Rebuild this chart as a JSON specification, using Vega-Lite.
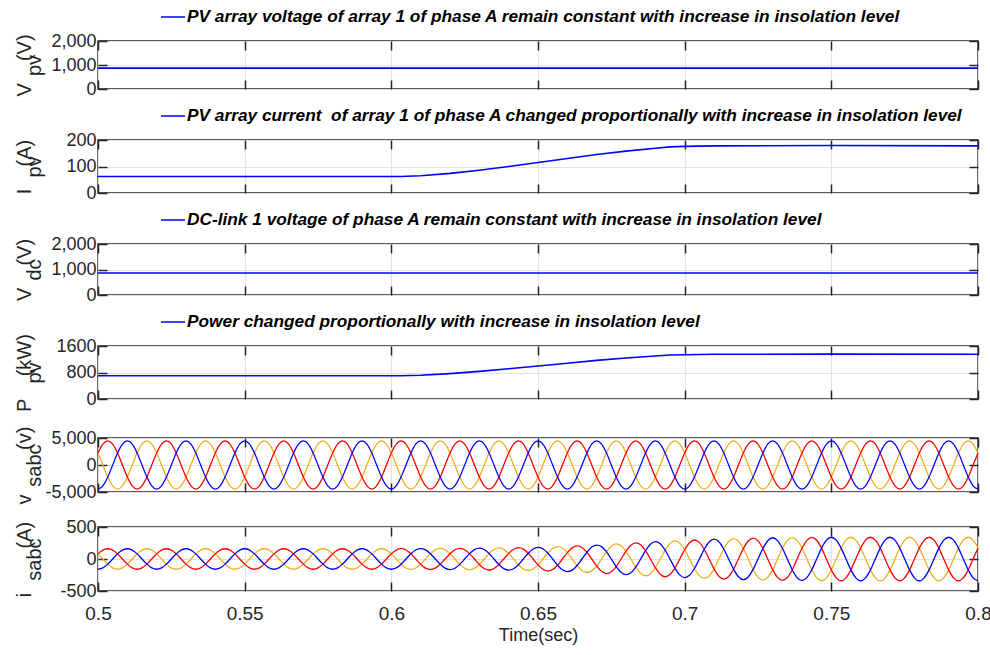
{
  "$schema": "https://vega.github.io/schema/vega-lite/v6.json",
  "padding": {"left": 13, "top": 3, "right": 0, "bottom": 0},
  "config": {
    "font": "Liberation Sans",
    "locale": {"number": {"decimal": ".", "thousands": ",", "grouping": [3], "currency": ["$", ""], "minus": "-"}},
    "view": {"stroke": "#262626", "strokeWidth": 1.5},
    "axis": {"domain": false, "gridColor": "#e2e2e2", "gridWidth": 1.2, "tickColor": "#262626", "tickWidth": 1.5, "tickSize": -9, "labelColor": "#262626", "labelFontSize": 18, "titleColor": "#262626", "titleFontSize": 20, "titleFontWeight": "normal", "labelPadding": 11},
    "axisY": {"minExtent": 48, "maxExtent": 48, "titlePadding": 6, "titleLineHeight": 10},
    "axisX": {"labelFontSize": 19, "titleFontSize": 18, "labelPadding": 22, "labelFlush": false, "titlePadding": 3},
    "legend": {"orient": "top", "symbolType": "stroke", "symbolSize": 576, "symbolStrokeWidth": 1.5, "labelFontSize": 17.3, "labelFontStyle": "italic", "labelFontWeight": "bold", "labelColor": "#000000", "labelLimit": 0, "padding": 0, "offset": 14, "symbolOffset": 62, "labelOffset": 1}
  },
  "datasets": {
    "dc": [
      {"t": 0.5, "vpv": 870, "ipv": 62, "vdc": 860, "ppv": 700},
      {"t": 0.6, "vpv": 870, "ipv": 62, "vdc": 860, "ppv": 700},
      {"t": 0.603, "vpv": 870, "ipv": 62.5, "vdc": 860, "ppv": 703},
      {"t": 0.61, "vpv": 870, "ipv": 65, "vdc": 860, "ppv": 717},
      {"t": 0.62, "vpv": 870, "ipv": 74, "vdc": 860, "ppv": 767},
      {"t": 0.63, "vpv": 870, "ipv": 86, "vdc": 860, "ppv": 834},
      {"t": 0.64, "vpv": 870, "ipv": 100, "vdc": 860, "ppv": 913},
      {"t": 0.65, "vpv": 870, "ipv": 115, "vdc": 860, "ppv": 997},
      {"t": 0.66, "vpv": 870, "ipv": 130, "vdc": 860, "ppv": 1081},
      {"t": 0.67, "vpv": 870, "ipv": 145, "vdc": 860, "ppv": 1165},
      {"t": 0.68, "vpv": 870, "ipv": 158, "vdc": 860, "ppv": 1238},
      {"t": 0.69, "vpv": 870, "ipv": 169, "vdc": 860, "ppv": 1299},
      {"t": 0.695, "vpv": 870, "ipv": 174, "vdc": 860, "ppv": 1327},
      {"t": 0.7, "vpv": 870, "ipv": 176, "vdc": 860, "ppv": 1338},
      {"t": 0.71, "vpv": 870, "ipv": 178, "vdc": 860, "ppv": 1350},
      {"t": 0.75, "vpv": 870, "ipv": 179, "vdc": 860, "ppv": 1355},
      {"t": 0.8, "vpv": 870, "ipv": 178, "vdc": 860, "ppv": 1350}
    ],
    "ac": [
      {"t":0.5,"vr":2225,"vy":2225,"vb":-4450,"ir":80,"iy":80,"ib":-160},
      {"t":0.50167,"vr":3854,"vy":0,"vb":-3854,"ir":139,"iy":0,"ib":-139},
      {"t":0.50333,"vr":4450,"vy":-2225,"vb":-2225,"ir":160,"iy":-80,"ib":-80},
      {"t":0.505,"vr":3854,"vy":-3854,"vb":0,"ir":139,"iy":-139,"ib":0},
      {"t":0.50667,"vr":2225,"vy":-4450,"vb":2225,"ir":80,"iy":-160,"ib":80},
      {"t":0.50833,"vr":0,"vy":-3854,"vb":3854,"ir":0,"iy":-139,"ib":139},
      {"t":0.51,"vr":-2225,"vy":-2225,"vb":4450,"ir":-80,"iy":-80,"ib":160},
      {"t":0.51167,"vr":-3854,"vy":0,"vb":3854,"ir":-139,"iy":0,"ib":139},
      {"t":0.51333,"vr":-4450,"vy":2225,"vb":2225,"ir":-160,"iy":80,"ib":80},
      {"t":0.515,"vr":-3854,"vy":3854,"vb":0,"ir":-139,"iy":139,"ib":0},
      {"t":0.51667,"vr":-2225,"vy":4450,"vb":-2225,"ir":-80,"iy":160,"ib":-80},
      {"t":0.51833,"vr":0,"vy":3854,"vb":-3854,"ir":0,"iy":139,"ib":-139},
      {"t":0.52,"vr":2225,"vy":2225,"vb":-4450,"ir":80,"iy":80,"ib":-160},
      {"t":0.52167,"vr":3854,"vy":0,"vb":-3854,"ir":139,"iy":0,"ib":-139},
      {"t":0.52333,"vr":4450,"vy":-2225,"vb":-2225,"ir":160,"iy":-80,"ib":-80},
      {"t":0.525,"vr":3854,"vy":-3854,"vb":0,"ir":139,"iy":-139,"ib":0},
      {"t":0.52667,"vr":2225,"vy":-4450,"vb":2225,"ir":80,"iy":-160,"ib":80},
      {"t":0.52833,"vr":0,"vy":-3854,"vb":3854,"ir":0,"iy":-139,"ib":139},
      {"t":0.53,"vr":-2225,"vy":-2225,"vb":4450,"ir":-80,"iy":-80,"ib":160},
      {"t":0.53167,"vr":-3854,"vy":0,"vb":3854,"ir":-139,"iy":0,"ib":139},
      {"t":0.53333,"vr":-4450,"vy":2225,"vb":2225,"ir":-160,"iy":80,"ib":80},
      {"t":0.535,"vr":-3854,"vy":3854,"vb":0,"ir":-139,"iy":139,"ib":0},
      {"t":0.53667,"vr":-2225,"vy":4450,"vb":-2225,"ir":-80,"iy":160,"ib":-80},
      {"t":0.53833,"vr":0,"vy":3854,"vb":-3854,"ir":0,"iy":139,"ib":-139},
      {"t":0.54,"vr":2225,"vy":2225,"vb":-4450,"ir":80,"iy":80,"ib":-160},
      {"t":0.54167,"vr":3854,"vy":0,"vb":-3854,"ir":139,"iy":0,"ib":-139},
      {"t":0.54333,"vr":4450,"vy":-2225,"vb":-2225,"ir":160,"iy":-80,"ib":-80},
      {"t":0.545,"vr":3854,"vy":-3854,"vb":0,"ir":139,"iy":-139,"ib":0},
      {"t":0.54667,"vr":2225,"vy":-4450,"vb":2225,"ir":80,"iy":-160,"ib":80},
      {"t":0.54833,"vr":0,"vy":-3854,"vb":3854,"ir":0,"iy":-139,"ib":139},
      {"t":0.55,"vr":-2225,"vy":-2225,"vb":4450,"ir":-80,"iy":-80,"ib":160},
      {"t":0.55167,"vr":-3854,"vy":0,"vb":3854,"ir":-139,"iy":0,"ib":139},
      {"t":0.55333,"vr":-4450,"vy":2225,"vb":2225,"ir":-160,"iy":80,"ib":80},
      {"t":0.555,"vr":-3854,"vy":3854,"vb":0,"ir":-139,"iy":139,"ib":0},
      {"t":0.55667,"vr":-2225,"vy":4450,"vb":-2225,"ir":-80,"iy":160,"ib":-80},
      {"t":0.55833,"vr":0,"vy":3854,"vb":-3854,"ir":0,"iy":139,"ib":-139},
      {"t":0.56,"vr":2225,"vy":2225,"vb":-4450,"ir":80,"iy":80,"ib":-160},
      {"t":0.56167,"vr":3854,"vy":0,"vb":-3854,"ir":139,"iy":0,"ib":-139},
      {"t":0.56333,"vr":4450,"vy":-2225,"vb":-2225,"ir":160,"iy":-80,"ib":-80},
      {"t":0.565,"vr":3854,"vy":-3854,"vb":0,"ir":139,"iy":-139,"ib":0},
      {"t":0.56667,"vr":2225,"vy":-4450,"vb":2225,"ir":80,"iy":-160,"ib":80},
      {"t":0.56833,"vr":0,"vy":-3854,"vb":3854,"ir":0,"iy":-139,"ib":139},
      {"t":0.57,"vr":-2225,"vy":-2225,"vb":4450,"ir":-80,"iy":-80,"ib":160},
      {"t":0.57167,"vr":-3854,"vy":0,"vb":3854,"ir":-139,"iy":0,"ib":139},
      {"t":0.57333,"vr":-4450,"vy":2225,"vb":2225,"ir":-160,"iy":80,"ib":80},
      {"t":0.575,"vr":-3854,"vy":3854,"vb":0,"ir":-139,"iy":139,"ib":0},
      {"t":0.57667,"vr":-2225,"vy":4450,"vb":-2225,"ir":-80,"iy":160,"ib":-80},
      {"t":0.57833,"vr":0,"vy":3854,"vb":-3854,"ir":0,"iy":139,"ib":-139},
      {"t":0.58,"vr":2225,"vy":2225,"vb":-4450,"ir":80,"iy":80,"ib":-160},
      {"t":0.58167,"vr":3854,"vy":0,"vb":-3854,"ir":139,"iy":0,"ib":-139},
      {"t":0.58333,"vr":4450,"vy":-2225,"vb":-2225,"ir":160,"iy":-80,"ib":-80},
      {"t":0.585,"vr":3854,"vy":-3854,"vb":0,"ir":139,"iy":-139,"ib":0},
      {"t":0.58667,"vr":2225,"vy":-4450,"vb":2225,"ir":80,"iy":-160,"ib":80},
      {"t":0.58833,"vr":0,"vy":-3854,"vb":3854,"ir":0,"iy":-139,"ib":139},
      {"t":0.59,"vr":-2225,"vy":-2225,"vb":4450,"ir":-80,"iy":-80,"ib":160},
      {"t":0.59167,"vr":-3854,"vy":0,"vb":3854,"ir":-139,"iy":0,"ib":139},
      {"t":0.59333,"vr":-4450,"vy":2225,"vb":2225,"ir":-160,"iy":80,"ib":80},
      {"t":0.595,"vr":-3854,"vy":3854,"vb":0,"ir":-139,"iy":139,"ib":0},
      {"t":0.59667,"vr":-2225,"vy":4450,"vb":-2225,"ir":-80,"iy":160,"ib":-80},
      {"t":0.59833,"vr":0,"vy":3854,"vb":-3854,"ir":0,"iy":139,"ib":-139},
      {"t":0.6,"vr":2225,"vy":2225,"vb":-4450,"ir":80,"iy":80,"ib":-160},
      {"t":0.60167,"vr":3854,"vy":0,"vb":-3854,"ir":139,"iy":0,"ib":-139},
      {"t":0.60333,"vr":4450,"vy":-2225,"vb":-2225,"ir":161,"iy":-81,"ib":-81},
      {"t":0.605,"vr":3854,"vy":-3854,"vb":0,"ir":140,"iy":-140,"ib":0},
      {"t":0.60667,"vr":2225,"vy":-4450,"vb":2225,"ir":81,"iy":-162,"ib":81},
      {"t":0.60833,"vr":0,"vy":-3854,"vb":3854,"ir":0,"iy":-141,"ib":141},
      {"t":0.61,"vr":-2225,"vy":-2225,"vb":4450,"ir":-82,"iy":-82,"ib":163},
      {"t":0.61167,"vr":-3854,"vy":0,"vb":3854,"ir":-142,"iy":0,"ib":142},
      {"t":0.61333,"vr":-4450,"vy":2225,"vb":2225,"ir":-164,"iy":82,"ib":82},
      {"t":0.615,"vr":-3854,"vy":3854,"vb":0,"ir":-142,"iy":142,"ib":0},
      {"t":0.61667,"vr":-2225,"vy":4450,"vb":-2225,"ir":-83,"iy":165,"ib":-83},
      {"t":0.61833,"vr":0,"vy":3854,"vb":-3854,"ir":0,"iy":143,"ib":-143},
      {"t":0.62,"vr":2225,"vy":2225,"vb":-4450,"ir":83,"iy":83,"ib":-166},
      {"t":0.62167,"vr":3854,"vy":0,"vb":-3854,"ir":144,"iy":0,"ib":-144},
      {"t":0.62333,"vr":4450,"vy":-2225,"vb":-2225,"ir":167,"iy":-84,"ib":-84},
      {"t":0.625,"vr":3854,"vy":-3854,"vb":0,"ir":145,"iy":-145,"ib":0},
      {"t":0.62667,"vr":2225,"vy":-4450,"vb":2225,"ir":84,"iy":-169,"ib":84},
      {"t":0.62833,"vr":0,"vy":-3854,"vb":3854,"ir":0,"iy":-147,"ib":147},
      {"t":0.63,"vr":-2225,"vy":-2225,"vb":4450,"ir":-85,"iy":-85,"ib":170},
      {"t":0.63167,"vr":-3854,"vy":0,"vb":3854,"ir":-148,"iy":0,"ib":148},
      {"t":0.63333,"vr":-4450,"vy":2225,"vb":2225,"ir":-172,"iy":86,"ib":86},
      {"t":0.635,"vr":-3854,"vy":3854,"vb":0,"ir":-149,"iy":149,"ib":0},
      {"t":0.63667,"vr":-2225,"vy":4450,"vb":-2225,"ir":-87,"iy":173,"ib":-87},
      {"t":0.63833,"vr":0,"vy":3854,"vb":-3854,"ir":0,"iy":151,"ib":-151},
      {"t":0.64,"vr":2225,"vy":2225,"vb":-4450,"ir":88,"iy":88,"ib":-175},
      {"t":0.64167,"vr":3854,"vy":0,"vb":-3854,"ir":153,"iy":0,"ib":-153},
      {"t":0.64333,"vr":4450,"vy":-2225,"vb":-2225,"ir":178,"iy":-89,"ib":-89},
      {"t":0.645,"vr":3854,"vy":-3854,"vb":0,"ir":155,"iy":-155,"ib":0},
      {"t":0.64667,"vr":2225,"vy":-4450,"vb":2225,"ir":90,"iy":-180,"ib":90},
      {"t":0.64833,"vr":0,"vy":-3854,"vb":3854,"ir":0,"iy":-157,"ib":157},
      {"t":0.65,"vr":-2225,"vy":-2225,"vb":4450,"ir":-92,"iy":-92,"ib":183},
      {"t":0.65167,"vr":-3854,"vy":0,"vb":3854,"ir":-161,"iy":0,"ib":161},
      {"t":0.65333,"vr":-4450,"vy":2225,"vb":2225,"ir":-188,"iy":94,"ib":94},
      {"t":0.655,"vr":-3854,"vy":3854,"vb":0,"ir":-165,"iy":165,"ib":0},
      {"t":0.65667,"vr":-2225,"vy":4450,"vb":-2225,"ir":-97,"iy":193,"ib":-97},
      {"t":0.65833,"vr":0,"vy":3854,"vb":-3854,"ir":0,"iy":169,"ib":-169},
      {"t":0.66,"vr":2225,"vy":2225,"vb":-4450,"ir":99,"iy":99,"ib":-198},
      {"t":0.66167,"vr":3854,"vy":0,"vb":-3854,"ir":174,"iy":0,"ib":-174},
      {"t":0.66333,"vr":4450,"vy":-2225,"vb":-2225,"ir":205,"iy":-102,"ib":-102},
      {"t":0.665,"vr":3854,"vy":-3854,"vb":0,"ir":180,"iy":-180,"ib":0},
      {"t":0.66667,"vr":2225,"vy":-4450,"vb":2225,"ir":106,"iy":-211,"ib":106},
      {"t":0.66833,"vr":0,"vy":-3854,"vb":3854,"ir":0,"iy":-186,"ib":186},
      {"t":0.67,"vr":-2225,"vy":-2225,"vb":4450,"ir":-109,"iy":-109,"ib":218},
      {"t":0.67167,"vr":-3854,"vy":0,"vb":3854,"ir":-193,"iy":0,"ib":193},
      {"t":0.67333,"vr":-4450,"vy":2225,"vb":2225,"ir":-227,"iy":114,"ib":114},
      {"t":0.675,"vr":-3854,"vy":3854,"vb":0,"ir":-200,"iy":200,"ib":0},
      {"t":0.67667,"vr":-2225,"vy":4450,"vb":-2225,"ir":-118,"iy":236,"ib":-118},
      {"t":0.67833,"vr":0,"vy":3854,"vb":-3854,"ir":0,"iy":208,"ib":-208},
      {"t":0.68,"vr":2225,"vy":2225,"vb":-4450,"ir":123,"iy":123,"ib":-245},
      {"t":0.68167,"vr":3854,"vy":0,"vb":-3854,"ir":216,"iy":0,"ib":-216},
      {"t":0.68333,"vr":4450,"vy":-2225,"vb":-2225,"ir":253,"iy":-127,"ib":-127},
      {"t":0.685,"vr":3854,"vy":-3854,"vb":0,"ir":223,"iy":-223,"ib":0},
      {"t":0.68667,"vr":2225,"vy":-4450,"vb":2225,"ir":131,"iy":-262,"ib":131},
      {"t":0.68833,"vr":0,"vy":-3854,"vb":3854,"ir":0,"iy":-230,"ib":230},
      {"t":0.69,"vr":-2225,"vy":-2225,"vb":4450,"ir":-135,"iy":-135,"ib":270},
      {"t":0.69167,"vr":-3854,"vy":0,"vb":3854,"ir":-237,"iy":0,"ib":237},
      {"t":0.69333,"vr":-4450,"vy":2225,"vb":2225,"ir":-277,"iy":138,"ib":138},
      {"t":0.695,"vr":-3854,"vy":3854,"vb":0,"ir":-242,"iy":242,"ib":0},
      {"t":0.69667,"vr":-2225,"vy":4450,"vb":-2225,"ir":-142,"iy":283,"ib":-142},
      {"t":0.69833,"vr":0,"vy":3854,"vb":-3854,"ir":0,"iy":248,"ib":-248},
      {"t":0.7,"vr":2225,"vy":2225,"vb":-4450,"ir":145,"iy":145,"ib":-290},
      {"t":0.70167,"vr":3854,"vy":0,"vb":-3854,"ir":254,"iy":0,"ib":-254},
      {"t":0.70333,"vr":4450,"vy":-2225,"vb":-2225,"ir":297,"iy":-148,"ib":-148},
      {"t":0.705,"vr":3854,"vy":-3854,"vb":0,"ir":260,"iy":-260,"ib":0},
      {"t":0.70667,"vr":2225,"vy":-4450,"vb":2225,"ir":152,"iy":-303,"ib":152},
      {"t":0.70833,"vr":0,"vy":-3854,"vb":3854,"ir":0,"iy":-266,"ib":266},
      {"t":0.71,"vr":-2225,"vy":-2225,"vb":4450,"ir":-155,"iy":-155,"ib":310},
      {"t":0.71167,"vr":-3854,"vy":0,"vb":3854,"ir":-270,"iy":0,"ib":270},
      {"t":0.71333,"vr":-4450,"vy":2225,"vb":2225,"ir":-314,"iy":157,"ib":157},
      {"t":0.715,"vr":-3854,"vy":3854,"vb":0,"ir":-274,"iy":274,"ib":0},
      {"t":0.71667,"vr":-2225,"vy":4450,"vb":-2225,"ir":-159,"iy":319,"ib":-159},
      {"t":0.71833,"vr":0,"vy":3854,"vb":-3854,"ir":0,"iy":278,"ib":-278},
      {"t":0.72,"vr":2225,"vy":2225,"vb":-4450,"ir":162,"iy":162,"ib":-323},
      {"t":0.72167,"vr":3854,"vy":0,"vb":-3854,"ir":281,"iy":0,"ib":-281},
      {"t":0.72333,"vr":4450,"vy":-2225,"vb":-2225,"ir":326,"iy":-163,"ib":-163},
      {"t":0.725,"vr":3854,"vy":-3854,"vb":0,"ir":284,"iy":-284,"ib":0},
      {"t":0.72667,"vr":2225,"vy":-4450,"vb":2225,"ir":165,"iy":-329,"ib":165},
      {"t":0.72833,"vr":0,"vy":-3854,"vb":3854,"ir":0,"iy":-286,"ib":286},
      {"t":0.73,"vr":-2225,"vy":-2225,"vb":4450,"ir":-166,"iy":-166,"ib":332},
      {"t":0.73167,"vr":-3854,"vy":0,"vb":3854,"ir":-288,"iy":0,"ib":288},
      {"t":0.73333,"vr":-4450,"vy":2225,"vb":2225,"ir":-334,"iy":167,"ib":167},
      {"t":0.735,"vr":-3854,"vy":3854,"vb":0,"ir":-290,"iy":290,"ib":0},
      {"t":0.73667,"vr":-2225,"vy":4450,"vb":-2225,"ir":-168,"iy":335,"ib":-168},
      {"t":0.73833,"vr":0,"vy":3854,"vb":-3854,"ir":0,"iy":291,"ib":-291},
      {"t":0.74,"vr":2225,"vy":2225,"vb":-4450,"ir":169,"iy":169,"ib":-337},
      {"t":0.74167,"vr":3854,"vy":0,"vb":-3854,"ir":292,"iy":0,"ib":-292},
      {"t":0.74333,"vr":4450,"vy":-2225,"vb":-2225,"ir":338,"iy":-169,"ib":-169},
      {"t":0.745,"vr":3854,"vy":-3854,"vb":0,"ir":293,"iy":-293,"ib":0},
      {"t":0.74667,"vr":2225,"vy":-4450,"vb":2225,"ir":170,"iy":-339,"ib":170},
      {"t":0.74833,"vr":0,"vy":-3854,"vb":3854,"ir":0,"iy":-294,"ib":294},
      {"t":0.75,"vr":-2225,"vy":-2225,"vb":4450,"ir":-170,"iy":-170,"ib":340},
      {"t":0.75167,"vr":-3854,"vy":0,"vb":3854,"ir":-294,"iy":0,"ib":294},
      {"t":0.75333,"vr":-4450,"vy":2225,"vb":2225,"ir":-340,"iy":170,"ib":170},
      {"t":0.755,"vr":-3854,"vy":3854,"vb":0,"ir":-294,"iy":294,"ib":0},
      {"t":0.75667,"vr":-2225,"vy":4450,"vb":-2225,"ir":-170,"iy":340,"ib":-170},
      {"t":0.75833,"vr":0,"vy":3854,"vb":-3854,"ir":0,"iy":294,"ib":-294},
      {"t":0.76,"vr":2225,"vy":2225,"vb":-4450,"ir":170,"iy":170,"ib":-340},
      {"t":0.76167,"vr":3854,"vy":0,"vb":-3854,"ir":294,"iy":0,"ib":-294},
      {"t":0.76333,"vr":4450,"vy":-2225,"vb":-2225,"ir":340,"iy":-170,"ib":-170},
      {"t":0.765,"vr":3854,"vy":-3854,"vb":0,"ir":294,"iy":-294,"ib":0},
      {"t":0.76667,"vr":2225,"vy":-4450,"vb":2225,"ir":170,"iy":-340,"ib":170},
      {"t":0.76833,"vr":0,"vy":-3854,"vb":3854,"ir":0,"iy":-294,"ib":294},
      {"t":0.77,"vr":-2225,"vy":-2225,"vb":4450,"ir":-170,"iy":-170,"ib":340},
      {"t":0.77167,"vr":-3854,"vy":0,"vb":3854,"ir":-294,"iy":0,"ib":294},
      {"t":0.77333,"vr":-4450,"vy":2225,"vb":2225,"ir":-340,"iy":170,"ib":170},
      {"t":0.775,"vr":-3854,"vy":3854,"vb":0,"ir":-294,"iy":294,"ib":0},
      {"t":0.77667,"vr":-2225,"vy":4450,"vb":-2225,"ir":-170,"iy":340,"ib":-170},
      {"t":0.77833,"vr":0,"vy":3854,"vb":-3854,"ir":0,"iy":294,"ib":-294},
      {"t":0.78,"vr":2225,"vy":2225,"vb":-4450,"ir":170,"iy":170,"ib":-340},
      {"t":0.78167,"vr":3854,"vy":0,"vb":-3854,"ir":294,"iy":0,"ib":-294},
      {"t":0.78333,"vr":4450,"vy":-2225,"vb":-2225,"ir":340,"iy":-170,"ib":-170},
      {"t":0.785,"vr":3854,"vy":-3854,"vb":0,"ir":294,"iy":-294,"ib":0},
      {"t":0.78667,"vr":2225,"vy":-4450,"vb":2225,"ir":170,"iy":-340,"ib":170},
      {"t":0.78833,"vr":0,"vy":-3854,"vb":3854,"ir":0,"iy":-294,"ib":294},
      {"t":0.79,"vr":-2225,"vy":-2225,"vb":4450,"ir":-170,"iy":-170,"ib":340},
      {"t":0.79167,"vr":-3854,"vy":0,"vb":3854,"ir":-294,"iy":0,"ib":294},
      {"t":0.79333,"vr":-4450,"vy":2225,"vb":2225,"ir":-340,"iy":170,"ib":170},
      {"t":0.795,"vr":-3854,"vy":3854,"vb":0,"ir":-294,"iy":294,"ib":0},
      {"t":0.79667,"vr":-2225,"vy":4450,"vb":-2225,"ir":-170,"iy":340,"ib":-170},
      {"t":0.79833,"vr":0,"vy":3854,"vb":-3854,"ir":0,"iy":294,"ib":-294},
      {"t":0.8,"vr":2225,"vy":2225,"vb":-4450,"ir":170,"iy":170,"ib":-340}
    ]
  },
  "spacing": 12,
  "vconcat": [
    {
      "bounds": "flush",
      "spacing": 51,
      "resolve": {"scale": {"color": "independent"}, "legend": {"color": "independent"}},
      "vconcat": [
        {
          "width": 880, "height": 48,
          "data": {"name": "dc"},
          "layer": [
            {"mark": {"type": "line", "strokeWidth": 1.6},
             "encoding": {
               "x": {"field": "t", "type": "quantitative", "scale": {"domain": [0.5, 0.8], "nice": false, "zero": false}, "axis": {"values": [0.5, 0.55, 0.6, 0.65, 0.7, 0.75, 0.8], "labels": false, "title": null}},
               "y": {"field": "vpv", "type": "quantitative", "scale": {"domain": [0, 2000], "nice": false}, "axis": {"values": [0, 1000, 2000], "format": ",.0f", "title": ["V\u00a0\u00a0\u00a0\u00a0(V)", "pv\u00a0\u00a0"]}},
               "color": {"datum": "PV array voltage of array 1 of phase A remain constant with increase in insolation level", "type": "nominal", "scale": {"range": ["#0000ff"]}, "legend": {"title": null}}
             }},
            {"mark": {"type": "line", "opacity": 0},
             "encoding": {
               "x": {"field": "t", "type": "quantitative", "axis": {"orient": "top", "values": [0.5, 0.55, 0.6, 0.65, 0.7, 0.75, 0.8], "labels": false, "grid": false, "title": null}},
               "y": {"field": "vpv", "type": "quantitative", "axis": {"orient": "right", "values": [0, 1000, 2000], "labels": false, "grid": false, "title": null}}
             }}
          ],
          "resolve": {"axis": {"x": "independent", "y": "independent"}}
        },
        {
          "width": 880, "height": 53,
          "data": {"name": "dc"},
          "layer": [
            {"mark": {"type": "line", "strokeWidth": 1.6},
             "encoding": {
               "x": {"field": "t", "type": "quantitative", "scale": {"domain": [0.5, 0.8], "nice": false, "zero": false}, "axis": {"values": [0.5, 0.55, 0.6, 0.65, 0.7, 0.75, 0.8], "labels": false, "title": null}},
               "y": {"field": "ipv", "type": "quantitative", "scale": {"domain": [0, 200], "nice": false}, "axis": {"values": [0, 100, 200], "format": "d", "title": ["I\u00a0\u00a0\u00a0\u00a0(A)", "pv\u00a0\u00a0\u00a0\u00a0"]}},
               "color": {"datum": "PV array current \u00a0of array 1 of phase A changed proportionally with increase in insolation level", "type": "nominal", "scale": {"range": ["#0000ff"]}, "legend": {"title": null}}
             }},
            {"mark": {"type": "line", "opacity": 0},
             "encoding": {
               "x": {"field": "t", "type": "quantitative", "axis": {"orient": "top", "values": [0.5, 0.55, 0.6, 0.65, 0.7, 0.75, 0.8], "labels": false, "grid": false, "title": null}},
               "y": {"field": "ipv", "type": "quantitative", "axis": {"orient": "right", "values": [0, 100, 200], "labels": false, "grid": false, "title": null}}
             }}
          ],
          "resolve": {"axis": {"x": "independent", "y": "independent"}}
        },
        {
          "width": 880, "height": 51,
          "data": {"name": "dc"},
          "layer": [
            {"mark": {"type": "line", "strokeWidth": 1.6},
             "encoding": {
               "x": {"field": "t", "type": "quantitative", "scale": {"domain": [0.5, 0.8], "nice": false, "zero": false}, "axis": {"values": [0.5, 0.55, 0.6, 0.65, 0.7, 0.75, 0.8], "labels": false, "title": null}},
               "y": {"field": "vdc", "type": "quantitative", "scale": {"domain": [0, 2000], "nice": false}, "axis": {"values": [0, 1000, 2000], "format": ",.0f", "title": ["V\u00a0\u00a0\u00a0\u00a0(V)", "dc\u00a0\u00a0"]}},
               "color": {"datum": "DC-link 1 voltage of phase A remain constant with increase in insolation level", "type": "nominal", "scale": {"range": ["#0000ff"]}, "legend": {"title": null}}
             }},
            {"mark": {"type": "line", "opacity": 0},
             "encoding": {
               "x": {"field": "t", "type": "quantitative", "axis": {"orient": "top", "values": [0.5, 0.55, 0.6, 0.65, 0.7, 0.75, 0.8], "labels": false, "grid": false, "title": null}},
               "y": {"field": "vdc", "type": "quantitative", "axis": {"orient": "right", "values": [0, 1000, 2000], "labels": false, "grid": false, "title": null}}
             }}
          ],
          "resolve": {"axis": {"x": "independent", "y": "independent"}}
        },
        {
          "width": 880, "height": 53,
          "data": {"name": "dc"},
          "layer": [
            {"mark": {"type": "line", "strokeWidth": 1.6},
             "encoding": {
               "x": {"field": "t", "type": "quantitative", "scale": {"domain": [0.5, 0.8], "nice": false, "zero": false}, "axis": {"values": [0.5, 0.55, 0.6, 0.65, 0.7, 0.75, 0.8], "labels": false, "title": null}},
               "y": {"field": "ppv", "type": "quantitative", "scale": {"domain": [0, 1600], "nice": false}, "axis": {"values": [0, 800, 1600], "format": "d", "title": ["P\u00a0\u00a0\u00a0\u00a0(kW)", "pv\u00a0\u00a0\u00a0\u00a0\u00a0"]}},
               "color": {"datum": "Power changed proportionally with increase in insolation level", "type": "nominal", "scale": {"range": ["#0000ff"]}, "legend": {"title": null}}
             }},
            {"mark": {"type": "line", "opacity": 0},
             "encoding": {
               "x": {"field": "t", "type": "quantitative", "axis": {"orient": "top", "values": [0.5, 0.55, 0.6, 0.65, 0.7, 0.75, 0.8], "labels": false, "grid": false, "title": null}},
               "y": {"field": "ppv", "type": "quantitative", "axis": {"orient": "right", "values": [0, 800, 1600], "labels": false, "grid": false, "title": null}}
             }}
          ],
          "resolve": {"axis": {"x": "independent", "y": "independent"}}
        }
      ]
    },
    {
      "bounds": "flush",
      "spacing": 35,
      "resolve": {"scale": {"color": "independent"}, "legend": {"color": "independent"}},
      "vconcat": [
        {
          "width": 880, "height": 54,
          "data": {"name": "ac"},
          "transform": [{"fold": ["vy", "vr", "vb"], "as": ["ph", "val"]}],
          "layer": [
            {"mark": {"type": "line", "strokeWidth": 1.3, "interpolate": "monotone"},
             "encoding": {
               "x": {"field": "t", "type": "quantitative", "scale": {"domain": [0.5, 0.8], "nice": false, "zero": false}, "axis": {"values": [0.5, 0.55, 0.6, 0.65, 0.7, 0.75, 0.8], "labels": false, "title": null}},
               "y": {"field": "val", "type": "quantitative", "scale": {"domain": [-5000, 5000], "nice": false}, "axis": {"values": [-5000, 0, 5000], "format": ",.0f", "title": ["v\u00a0\u00a0\u00a0\u00a0\u00a0\u00a0\u00a0\u00a0(v)", "sabc\u00a0\u00a0"]}},
               "color": {"field": "ph", "type": "nominal", "scale": {"domain": ["vy", "vr", "vb"], "range": ["#EDB120", "#FF0000", "#0000FF"]}, "legend": null}
             }},
            {"mark": {"type": "line", "opacity": 0},
             "encoding": {
               "x": {"field": "t", "type": "quantitative", "axis": {"orient": "top", "values": [0.5, 0.55, 0.6, 0.65, 0.7, 0.75, 0.8], "labels": false, "grid": false, "title": null}},
               "y": {"field": "val", "type": "quantitative", "axis": {"orient": "right", "values": [-5000, 0, 5000], "labels": false, "grid": false, "title": null}},
               "detail": {"field": "ph"}
             }}
          ],
          "resolve": {"axis": {"x": "independent", "y": "independent"}}
        },
        {
          "width": 880, "height": 64,
          "data": {"name": "ac"},
          "transform": [{"fold": ["iy", "ir", "ib"], "as": ["ph", "val"]}],
          "layer": [
            {"mark": {"type": "line", "strokeWidth": 1.3, "interpolate": "monotone"},
             "encoding": {
               "x": {"field": "t", "type": "quantitative", "scale": {"domain": [0.5, 0.8], "nice": false, "zero": false}, "axis": {"values": [0.5, 0.55, 0.6, 0.65, 0.7, 0.75, 0.8], "format": "~g", "title": "Time(sec)"}},
               "y": {"field": "val", "type": "quantitative", "scale": {"domain": [-500, 500], "nice": false}, "axis": {"values": [-500, 0, 500], "format": "d", "title": ["i\u00a0\u00a0\u00a0\u00a0\u00a0\u00a0\u00a0\u00a0(A)", "sabc\u00a0\u00a0\u00a0\u00a0"]}},
               "color": {"field": "ph", "type": "nominal", "scale": {"domain": ["iy", "ir", "ib"], "range": ["#EDB120", "#FF0000", "#0000FF"]}, "legend": null}
             }},
            {"mark": {"type": "line", "opacity": 0},
             "encoding": {
               "x": {"field": "t", "type": "quantitative", "axis": {"orient": "top", "values": [0.5, 0.55, 0.6, 0.65, 0.7, 0.75, 0.8], "labels": false, "grid": false, "title": null}},
               "y": {"field": "val", "type": "quantitative", "axis": {"orient": "right", "values": [-500, 0, 500], "labels": false, "grid": false, "title": null}},
               "detail": {"field": "ph"}
             }}
          ],
          "resolve": {"axis": {"x": "independent", "y": "independent"}}
        }
      ]
    }
  ],
  "resolve": {"scale": {"color": "independent"}, "legend": {"color": "independent"}}
}
